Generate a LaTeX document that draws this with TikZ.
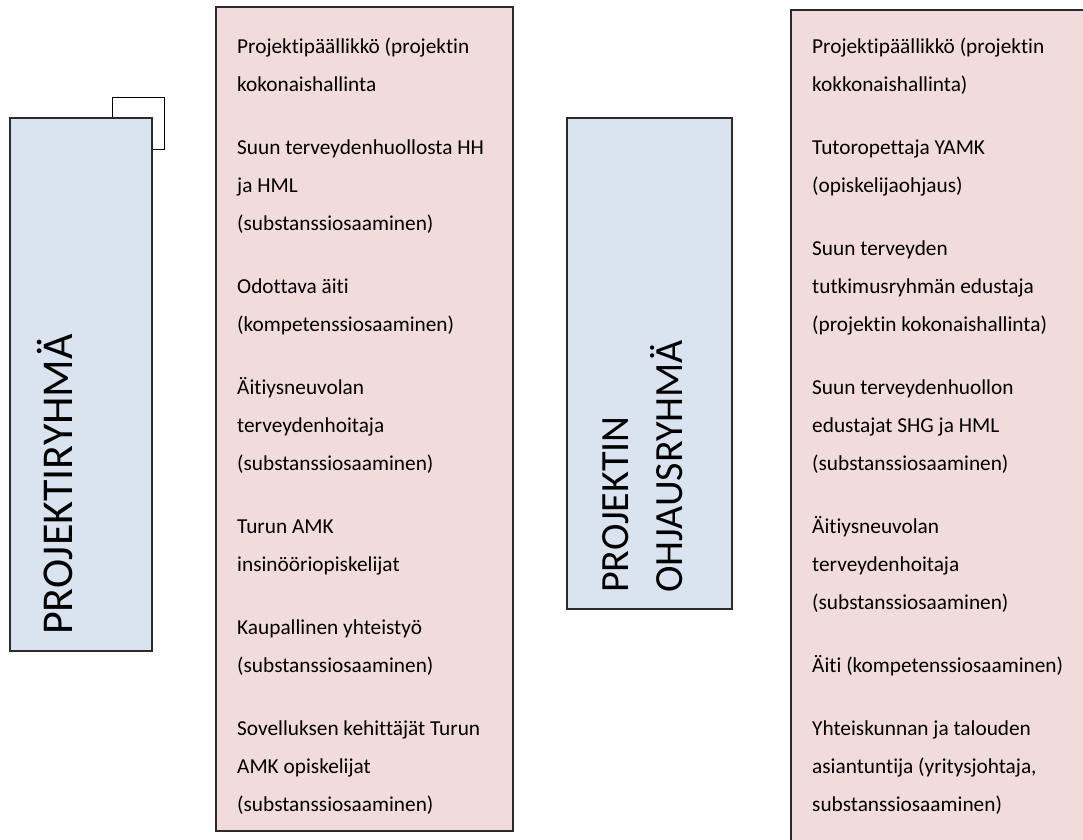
\documentclass[tikz,border=0pt]{standalone}
\usepackage{fontspec}
\setmainfont{Carlito}[Ligatures=NoCommon]
\definecolor{teamfill}{HTML}{DAE3F0}
\definecolor{rosterfill}{HTML}{F2DCDB}
\definecolor{edge}{HTML}{2B2B2B}
\begin{document}
\begin{tikzpicture}[x=1pt,y=-1pt,
  panel/.style={draw=edge, line width=1.3pt},
  teampanel/.style={panel, fill=teamfill},
  rosterpanel/.style={panel, fill=rosterfill},
  teamlabel/.style={rotate=90, anchor=base west, inner sep=0pt, font=\fontsize{44}{53}\selectfont},
  teamlabelsmall/.style={rotate=90, anchor=base west, inner sep=0pt, font=\fontsize{40}{53}\selectfont},
  rostertext/.style={anchor=north west, align=left, inner sep=0pt, font=\fontsize{21.3}{38}\selectfont}]
\useasboundingbox (0,0) rectangle (1083,839);

% small tab behind the first team panel
\draw[line width=1pt, draw=black, fill=white] (112,97) rectangle (164,149);

% team panels
\draw[teampanel] (10,118) rectangle (152,651);
\node[teamlabel] (ryhma) at (72,635) {PROJEKTIRYHMÄ};

\draw[teampanel] (567,118) rectangle (732,609);
\node[teamlabelsmall] (ohjaus1) at (628,593) {PROJEKTIN};
\node[teamlabelsmall] (ohjaus2) at (682,593) {OHJAUSRYHMÄ};

% member lists
\draw[rosterpanel] (216,7) rectangle (513,831);
\node[rostertext] (jasenet) at (237,31) {\rule{0pt}{22pt}Projektipäällikkö (projektin\\
kokonaishallinta\\[25pt]
Suun terveydenhuollosta HH\\
ja HML\\
(substanssiosaaminen)\\[25pt]
Odottava äiti\\
(kompetenssiosaaminen)\\[25pt]
Äitiysneuvolan\\
terveydenhoitaja\\
(substanssiosaaminen)\\[25pt]
Turun AMK\\
insinööriopiskelijat\\[25pt]
Kaupallinen yhteistyö\\
(substanssiosaaminen)\\[25pt]
Sovelluksen kehittäjät Turun\\
AMK opiskelijat\\
(substanssiosaaminen)};

\draw[rosterpanel] (791,10) rectangle (1092,848);
\node[rostertext] (ohjausjasenet) at (812,31) {\rule{0pt}{22pt}Projektipäällikkö (projektin\\
kokkonaishallinta)\\[25pt]
Tutoropettaja YAMK\\
(opiskelijaohjaus)\\[25pt]
Suun terveyden\\
tutkimusryhmän edustaja\\
(projektin kokonaishallinta)\\[25pt]
Suun terveydenhuollon\\
edustajat SHG ja HML\\
(substanssiosaaminen)\\[25pt]
Äitiysneuvolan\\
terveydenhoitaja\\
(substanssiosaaminen)\\[25pt]
Äiti (kompetenssiosaaminen)\\[25pt]
Yhteiskunnan ja talouden\\
asiantuntija (yritysjohtaja,\\
substanssiosaaminen)};
\end{tikzpicture}
\end{document}
